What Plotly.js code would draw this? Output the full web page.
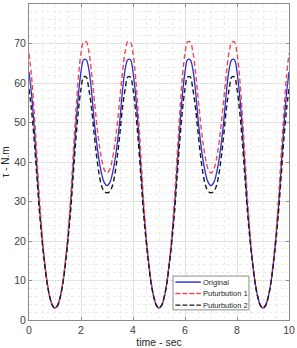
<!DOCTYPE html>
<html>
<head>
<meta charset="utf-8">
<script src="https://cdn.plot.ly/plotly-3.0.1.min.js"></script>
<style>html,body{margin:0;padding:0;background:#fff}#plot{width:297px;height:348px}</style>
</head>
<body>
<div id="plot"></div>
<script>
var time = [0,0.1,0.2,0.3,0.4,0.5,0.6,0.7,0.8,0.9,
1,1.1,1.2,1.3,1.4,1.5,1.6,1.7,1.8,1.9,
2,2.1,2.2,2.3,2.4,2.5,2.6,2.7,2.8,2.9,
3,3.1,3.2,3.3,3.4,3.5,3.6,3.7,3.8,3.9,
4,4.1,4.2,4.3,4.4,4.5,4.6,4.7,4.8,4.9,
5,5.1,5.2,5.3,5.4,5.5,5.6,5.7,5.8,5.9,
6,6.1,6.2,6.3,6.4,6.5,6.6,6.7,6.8,6.9,
7,7.1,7.2,7.3,7.4,7.5,7.6,7.7,7.8,7.9,
8,8.1,8.2,8.3,8.4,8.5,8.6,8.7,8.8,8.9,
9,9.1,9.2,9.3,9.4,9.5,9.6,9.7,9.8,9.9,10];

var original = [62.8,57,49,39,29,21,14.5,9.3,5.8,3.7,
3,3.7,5.8,9.3,14.5,21,29,39,49,57,
62.8,65.9,65.9,63.5,58.3,51,45,40.2,36.8,34.7,
34,34.7,36.8,40.2,45,51,58.3,63.5,65.9,65.9,
62.8,57,49,39,29,21,14.5,9.3,5.8,3.7,
3,3.7,5.8,9.3,14.5,21,29,39,49,57,
62.8,65.9,65.9,63.5,58.3,51,45,40.2,36.8,34.7,
34,34.7,36.8,40.2,45,51,58.3,63.5,65.9,65.9,
62.8,57,49,39,29,21,14.5,9.3,5.8,3.7,
3,3.7,5.8,9.3,14.5,21,29,39,49,57,62.8];

var pert1 = [67.5,61.5,52.5,42,31,22,15,9.5,5.8,3.7,
3,3.7,5.8,9.5,15,22,31,42,52.5,61.5,
67.5,70.4,70.4,68,63,56.5,50,44.5,40.5,38,
37.2,38,40.5,44.5,50,56.5,63,68,70.4,70.4,
67.5,61.5,52.5,42,31,22,15,9.5,5.8,3.7,
3,3.7,5.8,9.5,15,22,31,42,52.5,61.5,
67.5,70.4,70.4,68,63,56.5,50,44.5,40.5,38,
37.2,38,40.5,44.5,50,56.5,63,68,70.4,70.4,
67.5,61.5,52.5,42,31,22,15,9.5,5.8,3.7,
3,3.7,5.8,9.5,15,22,31,42,52.5,61.5,67.5];

var pert2 = [58.5,53,45.5,36.5,27.5,20.3,14.2,9.2,5.8,3.7,
3,3.7,5.8,9.2,14.2,20.3,27.5,36.5,45.5,53,
58.5,61.5,61.5,58.5,54,47.5,41.5,36.8,33.8,32.5,
32.2,32.5,33.8,36.8,41.5,47.5,54,58.5,61.5,61.5,
58.5,53,45.5,36.5,27.5,20.3,14.2,9.2,5.8,3.7,
3,3.7,5.8,9.2,14.2,20.3,27.5,36.5,45.5,53,
58.5,61.5,61.5,58.5,54,47.5,41.5,36.8,33.8,32.5,
32.2,32.5,33.8,36.8,41.5,47.5,54,58.5,61.5,61.5,
58.5,53,45.5,36.5,27.5,20.3,14.2,9.2,5.8,3.7,
3,3.7,5.8,9.2,14.2,20.3,27.5,36.5,45.5,53,58.5];

var seriesNames = ['Original', 'Puturbution 1', 'Puturbution 2'];
var seriesColors = ['#2b2bd9', '#f0484f', '#1a1a1a'];
var seriesDash = ['solid', '5px,3px', '5px,3px'];
var seriesData = [original, pert1, pert2];

var FONT = 'Liberation Sans, Arial, sans-serif';

var traces = seriesData.map(function (d, i) {
  return {x: time, y: d, name: seriesNames[i], type: 'scatter', mode: 'lines',
    line: {color: seriesColors[i], width: i === 0 ? 1.3 : 1.4, dash: seriesDash[i],
           shape: 'spline', smoothing: 1}};
});

// Compact MATLAB-style legend box (paper coordinates)
var legX0 = 0.554, legX1 = 0.846, legY0 = 0.032, legY1 = 0.139;
var rowY = [0.120, 0.084, 0.047];
var shapes = [{type: 'rect', xref: 'paper', yref: 'paper', x0: legX0, x1: legX1, y0: legY0, y1: legY1,
  line: {color: '#8c8c8c', width: 1}, fillcolor: '#ffffff', layer: 'above'}];
var annotations = [];
seriesNames.forEach(function (n, i) {
  shapes.push({type: 'line', xref: 'paper', yref: 'paper', x0: 0.563, x1: 0.661, y0: rowY[i], y1: rowY[i],
    line: {color: seriesColors[i], width: 1.4, dash: i === 0 ? 'solid' : '5px,2px'}, layer: 'above'});
  annotations.push({xref: 'paper', yref: 'paper', x: 0.662, y: rowY[i], xanchor: 'left', yanchor: 'middle',
    text: n, showarrow: false, font: {family: FONT, size: 7.5, color: '#262626'}});
});

var axisCommon = {
  showline: true, mirror: 'ticks', linecolor: '#8c8c8c', linewidth: 1,
  ticks: 'inside', ticklen: 3, tickcolor: '#8c8c8c',
  showgrid: true, gridcolor: '#e2e2e2', gridwidth: 1,
  zeroline: false,
  tickfont: {family: FONT, size: 10.5, color: '#404040'}
};

var layout = {
  width: 297, height: 348,
  margin: {l: 29, r: 8, t: 4, b: 28},
  paper_bgcolor: '#ffffff', plot_bgcolor: '#ffffff',
  showlegend: false,
  shapes: shapes,
  annotations: annotations,
  xaxis: Object.assign({}, axisCommon, {
    range: [0, 10], dtick: 2, tick0: 0,
    minor: {dtick: 0.5, showgrid: true, gridcolor: '#ececec', griddash: 'dot', ticks: ''},
    title: {text: 'time - sec', standoff: 4, font: {family: FONT, size: 10.5, color: '#262626'}}
  }),
  yaxis: Object.assign({}, axisCommon, {
    range: [0, 80], dtick: 10, tick0: 0,
    minor: {dtick: 2, showgrid: true, gridcolor: '#ececec', griddash: 'dot', ticks: ''},
    title: {text: 'τ - N.m', standoff: 2, font: {family: FONT, size: 10, color: '#262626'}}
  })
};

Plotly.newPlot('plot', traces, layout, {displayModeBar: false, staticPlot: true});
</script>
</body>
</html>
